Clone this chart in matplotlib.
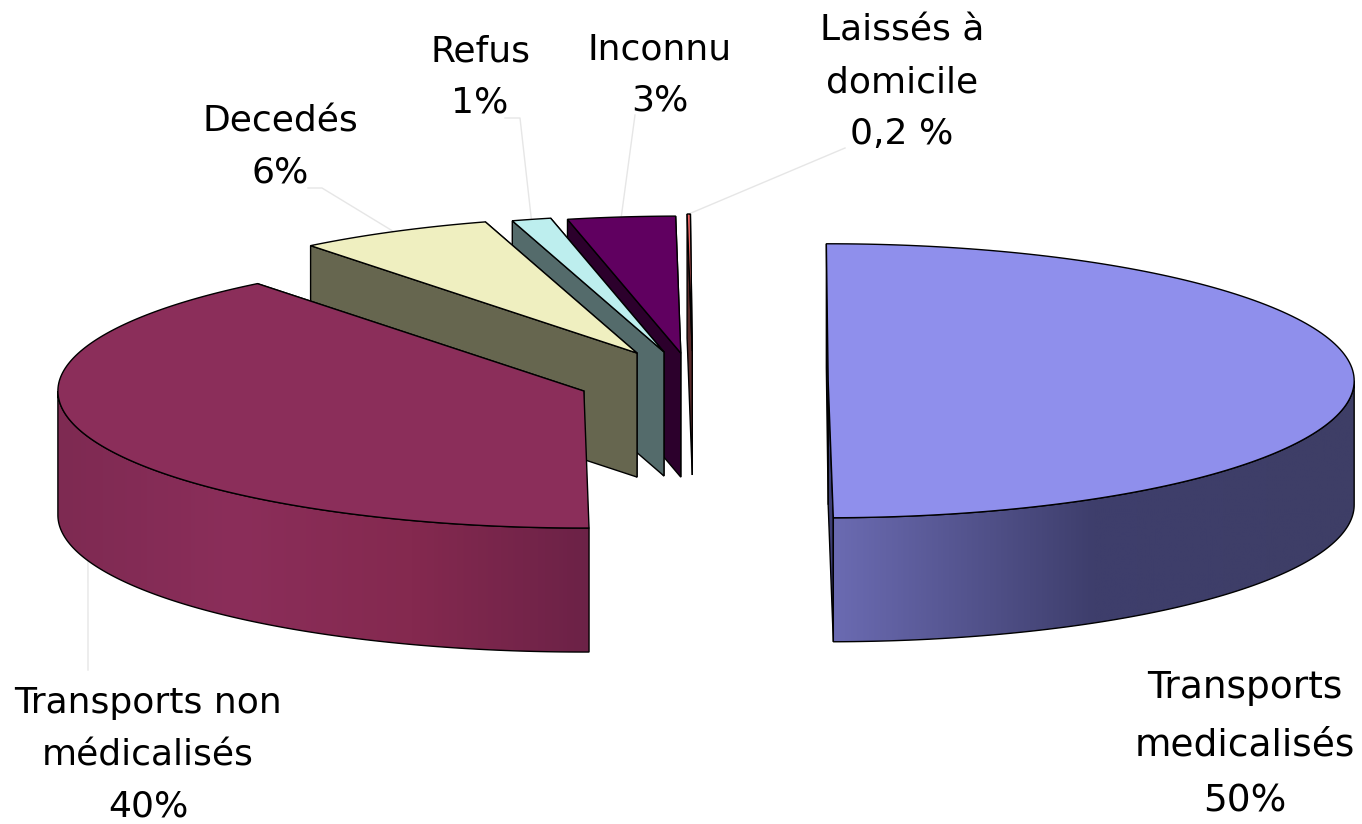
import numpy as np
import matplotlib
matplotlib.use('Agg')
import matplotlib.pyplot as plt
from matplotlib.colors import LinearSegmentedColormap
from matplotlib.patches import Polygon

# slice shares as measured on the drawing, the printed labels are rounded
categories = ['Transports\nmedicalisés', 'Transports non\nmédicalisés', 'Decedés', 'Refus', 'Inconnu', 'Laissés à\ndomicile']
shares = [49.9, 39.5, 6.0, 1.2, 3.3, 0.1]
share_labels = ['50%', '40%', '6%', '1%', '3%', '0,2 %']
explode = [0.257, 0.22, 0.23, 0.219, 0.205, 0.219]

top_colors = ['#8f8fec', '#8b2e5a', '#efefc0', '#bdeeee', '#600060', '#f06868']
face_colors = ['#3e3e74', '#6c2247', '#66664f', '#546b6b', '#2c002c', '#5a2a2a']
wall_stops = [['#6b6bb2', '#3e3e6c', '#3e3e66'],
              ['#7e2a52', '#8b2e5a', '#84294f', '#6c2247'],
              None, None, None, None]

label_pos = [(1245, 745), (148, 755), (280, 147), (480, 77), (660, 75), (902, 82)]
label_size = [27, 26, 26, 26, 26, 26]
label_spacing = [1.75, 1.65, 1.65, 1.65, 1.65, 1.65]
leader_elbows = [None, [(88, 670)], [(322, 188), (308, 188)], [(520, 118), (505, 118)], [(635, 115)], [(845, 148)]]

cx, cy = 693, 381
rx, ry = 526, 137
depth = 124
start = -0.2
k = ry / rx


def rim(c, t):
    t = np.radians(t)
    return np.column_stack([c[0] + rx * np.sin(t), c[1] - ry * np.cos(t)])


fig = plt.figure(figsize=(13.62, 8.24), dpi=100)
ax = fig.add_axes([0, 0, 1, 1])

edges = start + np.cumsum([0] + shares) / sum(shares) * 360
mids = (edges[:-1] + edges[1:]) / 2
centers = []
for m, e in zip(mids, explode):
    r = np.radians(m)
    centers.append((cx + e * rx * np.sin(r), cy - e * rx * k * np.cos(r)))

# leaders go under the pie
for c, m, elbow in zip(centers, mids, leader_elbows):
    if elbow is None:
        continue
    p = rim(c, m)[0]
    pts = np.array([p] + elbow)
    ax.plot(pts[:, 0], pts[:, 1], color='#e6e6e6', lw=1, zorder=1)

# painter order: back slices first
for i in [5, 4, 3, 2, 0, 1]:
    c = centers[i]
    t0, t1 = edges[i], edges[i + 1]
    base = 2 + (5 - i)
    # end face first, the start face is the one facing the viewer
    for t in (t1, t0):
        if i == 1 and t == t0:
            continue
        p = rim(c, t)[0]
        face = [c, p, (p[0], p[1] + depth), (c[0], c[1] + depth)]
        ax.add_patch(Polygon(face, fc=face_colors[i], ec='black', lw=1, zorder=base))

    w0, w1 = max(t0, 90), min(t1, 270)
    if w1 > w0 and wall_stops[i] is not None:
        ts = np.linspace(w0, w1, 120)
        upper = rim(c, ts)
        lower = upper + [0, depth]
        wall = Polygon(np.vstack([upper, lower[::-1]]), fc='none', ec='black', lw=1, zorder=base + 0.2)
        ax.add_patch(wall)
        cmap = LinearSegmentedColormap.from_list('wall', wall_stops[i])
        x0, x1 = upper[:, 0].min(), upper[:, 0].max()
        y0, y1 = upper[:, 1].min(), lower[:, 1].max()
        im = ax.imshow(np.linspace(0, 1, 256).reshape(1, -1), cmap=cmap, aspect='auto',
                       extent=[x0, x1, y1, y0], zorder=base + 0.1)
        im.set_clip_path(wall)

    ts = np.linspace(t0, t1, 160)
    top = np.vstack([[c], rim(c, ts)])
    ax.add_patch(Polygon(top, fc=top_colors[i], ec='black', lw=1, joinstyle='miter', zorder=base + 0.3))

for name, pct, (x, y), size, spacing in zip(categories, share_labels, label_pos, label_size, label_spacing):
    ax.text(x, y, name + '\n' + pct, ha='center', va='center', fontsize=size, color='black',
            family='DejaVu Sans', linespacing=spacing, zorder=20)

ax.set_xlim(0, 1362)
ax.set_ylim(824, 0)
ax.axis('off')
fig.savefig('out.png', dpi=100, facecolor='white')
